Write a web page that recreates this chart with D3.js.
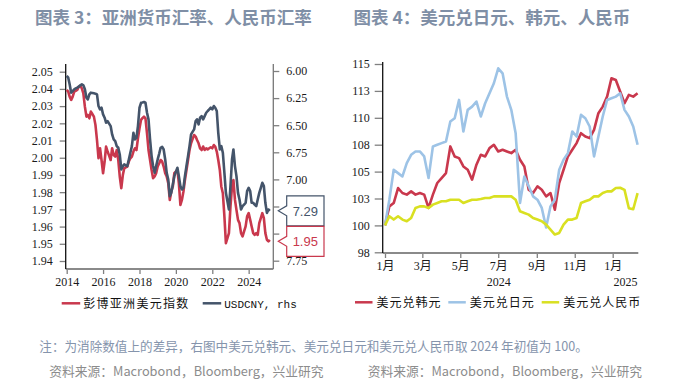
<!DOCTYPE html>
<html>
<head>
<meta charset="utf-8">
<script src="https://cdn.jsdelivr.net/npm/d3@7"></script>
<style>
  body { margin: 0; background: #fff; }
  svg { display: block; font-family: "Noto Sans CJK SC", sans-serif; }
  .tick text { font-family: "Liberation Serif", "Noto Sans CJK SC", serif; font-size: 12px; fill: #1a1a1a; }
</style>
</head>
<body>
<svg id="chart" width="682" height="386"></svg>
<script>
// ---- data: left chart, monthly from Jan 2014 ----
var asiaStart = new Date(2014, 0, 1);
var asiaDollar = [2.0394, 2.0384, 2.0355, 2.0336, 2.0355, 2.0384, 2.0389,
  2.0394, 2.0413, 2.0417, 2.0403, 2.0374, 2.0297, 2.0239, 2.0249, 2.0229, 2.0268, 2.0254,
  2.0239, 2.0191, 2.0103, 1.9997, 2.0055, 1.9987, 1.9910, 1.9978, 2.0065, 2.0036, 2.0012,
  1.9987, 2.0055, 2.0016, 2.0007, 2.0045, 1.9987, 1.9891, 1.9823, 1.9900, 1.9939, 1.9944,
  1.9949, 1.9978, 1.9997, 2.0007, 2.0036, 2.0055, 2.0045, 2.0113, 2.0171, 2.0220, 2.0230,
  2.0239, 2.0229, 2.0142, 2.0045, 1.9987, 1.9929, 1.9881, 1.9891, 1.9910, 1.9949, 1.9968,
  1.9987, 1.9978, 1.9949, 1.9910, 1.9891, 1.9852, 1.9755, 1.9804, 1.9833, 1.9910, 1.9920,
  1.9929, 1.9852, 1.9726, 1.9755, 1.9804, 1.9871, 1.9929, 1.9987, 2.0045, 2.0084, 2.0108,
  2.0132, 2.0123, 2.0103, 2.0084, 2.0055, 2.0045, 2.0065, 2.0045, 2.0055, 2.0049, 2.0055,
  2.0061, 2.0055, 2.0074, 2.0065, 2.0036, 1.9987, 1.9929, 1.9833, 1.9794, 1.9659, 1.9504, 1.9533,
  1.9562, 1.9717, 1.9833, 1.9871, 1.9755, 1.9697, 1.9639, 1.9620, 1.9562, 1.9543, 1.9572,
  1.9601, 1.9659, 1.9678, 1.9639, 1.9601, 1.9562, 1.9552, 1.9562, 1.9552, 1.9620, 1.9649,
  1.9678, 1.9649, 1.9562, 1.9523, 1.9514, 1.9523];
var usdCny = [6.046, 6.062, 6.123, 6.200, 6.185, 6.169, 6.161,
  6.154, 6.145, 6.132, 6.123, 6.132, 6.169, 6.246, 6.262, 6.216, 6.200, 6.203,
  6.206, 6.209, 6.216, 6.323, 6.354, 6.339, 6.400, 6.431, 6.477, 6.462, 6.485,
  6.508, 6.585, 6.631, 6.647, 6.693, 6.708, 6.770, 6.908, 6.877, 6.862, 6.870,
  6.877, 6.816, 6.754, 6.693, 6.570, 6.631, 6.616, 6.508, 6.339, 6.293, 6.290,
  6.286, 6.293, 6.385, 6.446, 6.631, 6.785, 6.877, 6.939, 6.877, 6.816, 6.762,
  6.708, 6.699, 6.724, 6.816, 6.939, 7.001, 7.155, 7.124, 7.047, 6.970, 6.932,
  6.893, 6.970, 7.062, 7.093, 7.078, 6.970, 6.877, 6.785, 6.693, 6.585, 6.562,
  6.539, 6.462, 6.446, 6.493, 6.431, 6.416, 6.446, 6.416, 6.385, 6.369, 6.354,
  6.339, 6.354, 6.323, 6.339, 6.369, 6.570, 6.724, 6.693, 6.754, 6.939, 7.124, 7.201,
  7.278, 7.062, 6.816, 6.724, 6.877, 6.970, 7.124, 7.185, 7.278, 7.247, 7.232,
  7.216, 7.108, 7.078, 7.108, 7.216, 7.216, 7.232, 7.247, 7.185, 7.124, 7.078,
  7.031, 7.062, 7.216, 7.309, 7.278, 7.290];
var leftYears = [2014, 2016, 2018, 2020, 2022, 2024];
var asiaTicks = [1.94, 1.95, 1.96, 1.97, 1.98, 1.99, 2.00, 2.01, 2.02, 2.03, 2.04, 2.05];
var cnyTicks = [6.00, 6.25, 6.50, 6.75, 7.00, 7.25, 7.50, 7.75];
var leftNames = ["彭博亚洲美元指数", "USDCNY, rhs"];

// ---- data: right chart, weekly from 2024-01-01, start of 2024 = 100 ----
var fxStart = new Date(2024, 0, 1);
var usdKrw = [100.0, 101.77, 102.08, 103.47, 103.01, 102.86, 103.16, 102.86, 103.01, 102.86,
  101.62, 102.86, 103.94, 104.40, 104.86, 107.34, 106.41, 106.25, 105.48, 105.17,
  104.25, 105.64, 106.56, 106.41, 107.18, 107.49, 106.87, 107.03, 106.87, 106.72,
  107.03, 106.10, 105.48, 103.32, 103.01, 103.63, 103.32, 102.70, 103.01, 101.46,
  103.94, 105.17, 106.41, 107.03, 107.65, 108.57, 108.26, 108.11, 108.88, 110.43,
  111.04, 111.97, 113.67, 113.52, 112.44, 111.35, 112.13, 111.97, 112.28];
var usdJpy = [100.0, 102.39, 105.17, 104.86, 104.55, 105.79, 106.56, 106.87, 106.87, 106.41,
  104.40, 107.34, 107.49, 107.65, 107.80, 109.65, 109.96, 111.66, 108.73, 110.74,
  111.04, 111.51, 110.12, 111.35, 112.28, 113.21, 114.60, 114.13, 111.97, 110.74,
  108.57, 102.08, 104.55, 103.63, 102.70, 102.39, 101.62, 99.80, 101.77, 102.39,
  105.17, 106.10, 106.72, 108.73, 108.26, 110.27, 109.96, 109.19, 106.41, 108.26,
  110.12, 111.66, 111.82, 111.97, 112.28, 110.74, 110.12, 109.19, 107.49];
var usdCnyIdx = [100.0, 100.85, 100.54, 100.85, 100.54, 100.38, 100.69, 101.62, 101.77, 101.77,
  101.62, 101.93, 102.08, 102.24, 102.24, 102.39, 102.39, 102.39, 102.08, 102.24,
  102.39, 102.39, 102.45, 102.55, 102.55, 102.70, 102.70, 102.70, 102.70, 102.70,
  102.39, 101.31, 101.16, 101.00, 100.69, 100.54, 100.38, 100.07, 99.61, 99.15,
  99.30, 100.07, 100.54, 100.54, 100.69, 102.08, 102.24, 102.39, 102.70, 102.70,
  103.01, 103.16, 103.16, 103.47, 103.50, 103.30, 101.60, 101.50, 103.00];
var fxTicks = [97.5, 100, 102.5, 105, 107.5, 110, 112.5, 115];
var fxMonths = ["2024-01-01", "2024-03-01", "2024-05-01", "2024-07-01", "2024-09-01", "2024-11-01", "2025-01-01"];
var fxYears = ["2024", "2025"];
var fxNames = ["美元兑韩元", "美元兑日元", "美元兑人民币"];

var red = "#c9384d", navy = "#44546a", sky = "#9dc3e6", lime = "#d9e021";

var svg = d3.select("#chart");

// titles
svg.append("text").attr("x", 35).attr("y", 23.5).attr("font-size", 17.5).attr("font-weight", 700)
  .attr("fill", "#7f8fa6").text("图表 3：亚洲货币汇率、人民币汇率");
svg.append("text").attr("x", 353.5).attr("y", 23.5).attr("font-size", 17.5).attr("font-weight", 700)
  .attr("fill", "#7f8fa6").text("图表 4：美元兑日元、韩元、人民币");

// ================= left chart =================
var months = d3.timeMonth.range(asiaStart, d3.timeMonth.offset(asiaStart, asiaDollar.length));
var leftData = months.map(function (d, i) { return { date: d, asia: asiaDollar[i], cny: usdCny[i] }; });

var xL = d3.scaleTime().domain([new Date(2014, 0, 1), new Date(2025, 0, 1)]).range([66.7, 266.9]);
var yL = d3.scaleLinear().domain([1.94, 2.05]).range([261, 71.7]);
var yR = d3.scaleLinear().domain([6.0, 7.75]).range([71, 260.7]);

var gl = svg.append("g");

// last value callouts (boxes hide the rhs tick labels behind them)
var last = leftData[leftData.length - 1];
var callouts = [{ y: yR(last.cny), v: last.cny, c: navy }, { y: yL(last.asia) + 1.5, v: last.asia, c: red }];

// axes
var leftAxis = gl.append("g").attr("transform", "translate(65.7,0)")
  .call(d3.axisLeft(yL).tickValues(asiaTicks).tickFormat(d3.format(".2f")).tickSize(6).tickPadding(7));
var rightAxis = gl.append("g").attr("transform", "translate(273.3,0)")
  .call(d3.axisRight(yR).tickValues(cnyTicks).tickSize(6).tickPadding(7)
    .tickFormat(function (d) {
      var hidden = callouts.some(function (b) { return Math.abs(yR(d) - b.y) < 13; });
      return hidden ? "" : d3.format(".2f")(d);
    }));
var bottomAxis = gl.append("g").attr("transform", "translate(0,269)")
  .call(d3.axisBottom(xL).tickValues(leftYears.map(function (y) { return new Date(y, 0, 1); }))
    .tickFormat(d3.timeFormat("%Y")).tickSize(5).tickPadding(3));
[leftAxis, rightAxis, bottomAxis].forEach(function (a) {
  a.select(".domain").remove();
  a.selectAll(".tick line").attr("stroke", "#808080").attr("stroke-width", 1.3);
});
gl.append("line").attr("x1", 65.7).attr("x2", 273.3).attr("y1", 269).attr("y2", 269)
  .attr("stroke", "#8a8a8a").attr("stroke-width", 2);
gl.append("line").attr("x1", 65.7).attr("x2", 65.7).attr("y1", 64).attr("y2", 269)
  .attr("stroke", "#111").attr("stroke-width", 1.3);
gl.append("line").attr("x1", 273.3).attr("x2", 273.3).attr("y1", 64).attr("y2", 269)
  .attr("stroke", "#777").attr("stroke-width", 1.3);

// series
gl.append("path").datum(leftData)
  .attr("d", d3.line().x(function (d) { return xL(d.date); }).y(function (d) { return yL(d.asia); }))
  .attr("fill", "none").attr("stroke", red).attr("stroke-width", 2.6).attr("stroke-linejoin", "round");
gl.append("path").datum(leftData)
  .attr("d", d3.line().x(function (d) { return xL(d.date); }).y(function (d) { return yR(d.cny); }))
  .attr("fill", "none").attr("stroke", navy).attr("stroke-width", 2.6).attr("stroke-linejoin", "round");

callouts.forEach(function (b) {
  var x0 = 278.3, x1 = 286.7, x2 = 324, top = b.y - 15, bot = b.y + 15;
  gl.append("path")
    .attr("d", "M" + x0 + "," + b.y + "L" + x1 + "," + (b.y - 5) + "L" + x1 + "," + top + "L" + x2 + "," + top +
      "L" + x2 + "," + bot + "L" + x1 + "," + bot + "L" + x1 + "," + (b.y + 5) + "Z")
    .attr("fill", "#fff").attr("stroke", b.c).attr("stroke-width", 1.2);
  gl.append("text").attr("x", 305.3).attr("y", b.y + 4.8).attr("text-anchor", "middle")
    .attr("font-family", "'Liberation Sans', sans-serif").attr("font-size", 13).attr("fill", b.c)
    .text(d3.format(".2f")(b.v));
});

// legend
var legL = [{ x: 61.7, c: red }, { x: 202.7, c: navy }];
legL.forEach(function (l, i) {
  gl.append("line").attr("x1", l.x).attr("x2", l.x + 18.5).attr("y1", 303.3).attr("y2", 303.3)
    .attr("stroke", l.c).attr("stroke-width", 2.5);
  var t = gl.append("text").attr("x", l.x + 21.5).attr("y", 307.5).attr("fill", "#111").text(leftNames[i]);
  if (i === 0) t.attr("font-size", 12).attr("letter-spacing", 1.3);
  else t.attr("font-family", "'Liberation Mono', monospace").attr("font-size", 11);
});

// ================= right chart =================
var weeks = usdKrw.map(function (v, i) { return d3.timeDay.offset(fxStart, 7 * i); });
var xF = d3.scaleTime().domain([new Date(2024, 0, 1), new Date(2025, 0, 1)]).range([385, 612.7]);
var yF = d3.scaleLinear().domain([97.5, 115]).range([252.3, 64]);
var gr = svg.append("g");

var fyAxis = gr.append("g").attr("transform", "translate(382.7,0)")
  .call(d3.axisLeft(yF).tickValues(fxTicks).tickFormat(function (d) { return d.toFixed(0); }).tickSize(8).tickPadding(5));
var fxAxis = gr.append("g").attr("transform", "translate(0,253)")
  .call(d3.axisBottom(xF).tickValues(fxMonths.map(function (s) { return new Date(s + "T00:00:00"); }))
    .tickFormat(function (d) { return (d.getMonth() + 1) + "月"; }).tickSize(5).tickPadding(3.5));
[fyAxis, fxAxis].forEach(function (a) {
  a.select(".domain").remove();
  a.selectAll(".tick line").attr("stroke", "#808080").attr("stroke-width", 1.3);
});
gr.append("line").attr("x1", 382.7).attr("x2", 638.3).attr("y1", 253).attr("y2", 253)
  .attr("stroke", "#8a8a8a").attr("stroke-width", 2);
gr.append("line").attr("x1", 382.7).attr("x2", 382.7).attr("y1", 62).attr("y2", 253)
  .attr("stroke", "#111").attr("stroke-width", 1.3);

// year labels, centred on each year's span inside the axis
var axisEnd = 638.3;
fxYears.forEach(function (y) {
  var a = xF(new Date(+y, 0, 1)), b = Math.min(xF(new Date(+y + 1, 0, 1)), axisEnd);
  gr.append("text").attr("x", (a + b) / 2).attr("y", 285.5).attr("text-anchor", "middle")
    .attr("font-family", "'Liberation Serif', serif").attr("font-size", 12).attr("fill", "#1a1a1a").text(y);
});

var fxSeries = [{ v: usdKrw, c: red }, { v: usdJpy, c: sky }, { v: usdCnyIdx, c: lime }];
fxSeries.forEach(function (s) {
  gr.append("path").datum(s.v)
    .attr("d", d3.line().x(function (d, i) { return xF(weeks[i]); }).y(function (d) { return yF(d); }))
    .attr("fill", "none").attr("stroke", s.c).attr("stroke-width", 2.6).attr("stroke-linejoin", "round");
});

var legR = [355, 448.3, 541.7];
legR.forEach(function (x, i) {
  gr.append("line").attr("x1", x).attr("x2", x + 17.5).attr("y1", 302.3).attr("y2", 302.3)
    .attr("stroke", fxSeries[i].c).attr("stroke-width", 2.5);
  gr.append("text").attr("x", x + 21.5).attr("y", 306.5).attr("font-size", 12).attr("letter-spacing", 1)
    .attr("fill", "#111").text(fxNames[i]);
});

// notes
svg.append("text").attr("x", 39.3).attr("y", 351).attr("font-size", 12.6).attr("fill", "#8594ac")
  .text("注：为消除数值上的差异，右图中美元兑韩元、美元兑日元和美元兑人民币取 2024 年初值为 100。");
svg.append("text").attr("x", 49.3).attr("y", 375.5).attr("font-size", 12.75).attr("fill", "#8c8c8c")
  .text("资料来源：Macrobond，Bloomberg，兴业研究");
svg.append("text").attr("x", 367.7).attr("y", 375.5).attr("font-size", 12.75).attr("fill", "#8c8c8c")
  .text("资料来源：Macrobond，Bloomberg，兴业研究");
</script>
</body>
</html>
